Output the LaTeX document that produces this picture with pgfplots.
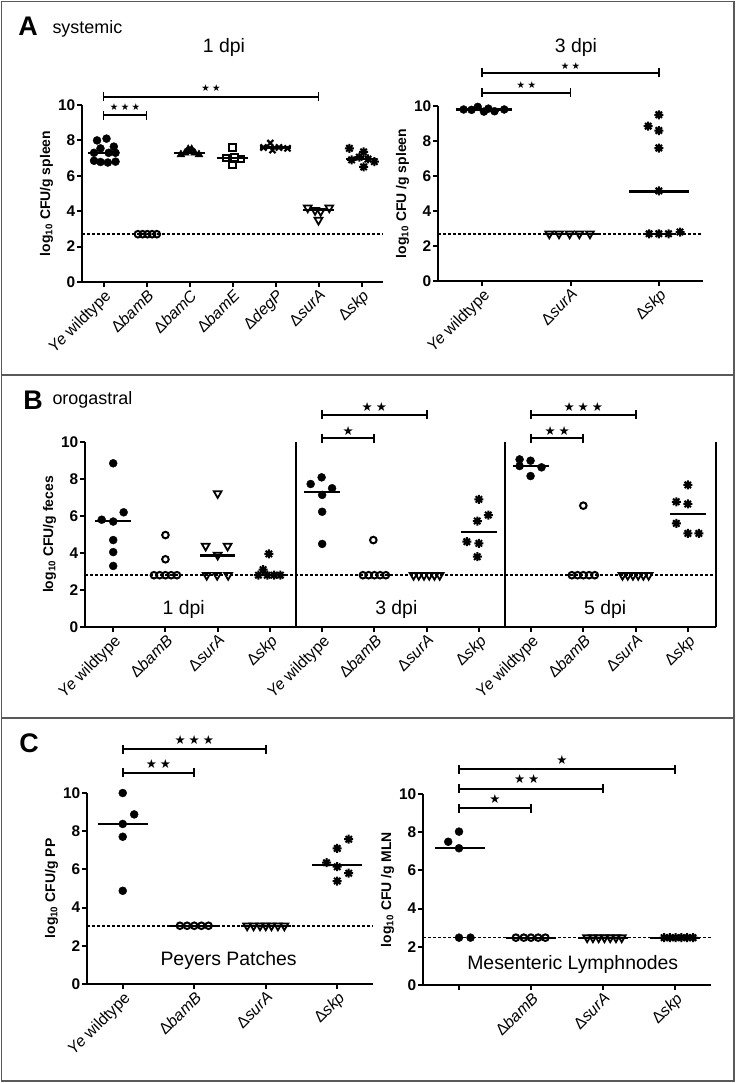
\documentclass[border=0pt]{standalone}
\usepackage{fontspec}
\setmainfont{Liberation Sans}
\newfontfamily\symfont{DejaVu Sans}
\usepackage{pgfplots}
\pgfplotsset{compat=1.18}

\pgfdeclareplotmark{ast8}{%
 \pgfpathmoveto{\pgfqpoint{0pt}{\pgfplotmarksize}}\pgfpathlineto{\pgfqpoint{0pt}{-\pgfplotmarksize}}%
 \pgfpathmoveto{\pgfqpoint{\pgfplotmarksize}{0pt}}\pgfpathlineto{\pgfqpoint{-\pgfplotmarksize}{0pt}}%
 \pgfpathmoveto{\pgfqpointpolar{45}{\pgfplotmarksize}}\pgfpathlineto{\pgfqpointpolar{225}{\pgfplotmarksize}}%
 \pgfpathmoveto{\pgfqpointpolar{135}{\pgfplotmarksize}}\pgfpathlineto{\pgfqpointpolar{315}{\pgfplotmarksize}}%
 \pgfusepathqstroke}

\pgfplotsset{
 gp/.style={
  scale only axis, clip=false, anchor=south west,
  axis x line*=bottom, axis y line*=left,
  ymin=0, ymax=10, ytick={0,2,4,6,8,10},
  tick align=outside, major tick length=5bp,
  axis line style={line width=2bp},
  major tick style={line width=2bp, black},
  /pgf/number format/assume math mode=true,
  yticklabel style={font=\fontsize{15.5}{16}\selectfont\bfseries, inner sep=1.5bp},
  xticklabel style={font=\fontsize{16}{17}\selectfont, rotate=45, anchor=north east, inner sep=1bp},
  ylabel style={font=\fontsize{14}{16}\selectfont\bfseries},
 },
 dl/.style={black, dash pattern=on 3bp off 2bp, line width=1.5bp, no marks},
 med/.style={black, line width=2.2bp, no marks},
 fc/.style={black, only marks, mark=*, mark size=4bp, mark options={fill=black, line width=0.4bp}},
 oc/.style={black, only marks, mark=o, mark size=3.3bp, mark options={line width=2bp}},
 tri/.style={black, only marks, mark=triangle, mark size=4.5bp, mark options={rotate=180, line width=1.8bp}},
 ftri/.style={black, only marks, mark=triangle*, mark size=4.6bp, mark options={fill=black}},
 sq/.style={black, only marks, mark=square, mark size=3.3bp, mark options={line width=2bp}},
 xm/.style={black, only marks, mark=x, mark size=4.3bp, mark options={line width=2.2bp}},
 ast/.style={black, only marks, mark=ast8, mark size=4.5bp, mark options={line width=2bp}},
}
\newcommand{\br}[3]{%
 \draw[line width=1.9bp] (axis cs:#1,#3) -- (axis cs:#2,#3);
 \draw[line width=1.9bp] ([yshift=-4.5bp]axis cs:#1,#3) -- ([yshift=4.5bp]axis cs:#1,#3);
 \draw[line width=1.9bp] ([yshift=-4.5bp]axis cs:#2,#3) -- ([yshift=4.5bp]axis cs:#2,#3);}
\newcommand{\sig}[4]{\node[inner sep=0pt, font=\symfont\fontsize{#3}{#3}\selectfont] at (axis cs:#1,#2) {#4};}

\begin{document}
\begin{tikzpicture}
\useasboundingbox (0,0) rectangle (737bp,-1083bp);
\draw[line width=1.5bp, black!65] (1.5bp,-1.5bp) rectangle (734bp,-1081bp);
\draw[line width=1.5bp, black!65] (1.5bp,-375bp) -- (734bp,-375bp);
\draw[line width=1.5bp, black!65] (1.5bp,-718bp) -- (734bp,-718bp);

\node[anchor=base, font=\fontsize{27}{27}\selectfont\bfseries] at (28bp,-35bp) {A};
\node[anchor=base west, font=\fontsize{18}{18}\selectfont] at (49bp,-33bp) {systemic};
\node[anchor=base, font=\fontsize{19.5}{20}\selectfont] at (224bp,-52bp) {1 dpi};
\node[anchor=base, font=\fontsize{19.5}{20}\selectfont] at (576bp,-52bp) {3 dpi};
\node[anchor=base, font=\fontsize{27}{27}\selectfont\bfseries] at (33bp,-409bp) {B};
\node[anchor=base west, font=\fontsize{18}{18}\selectfont] at (49bp,-404bp) {orogastral};
\node[anchor=base, font=\fontsize{27}{27}\selectfont\bfseries] at (29bp,-752bp) {C};

% ---------- Panel A left ----------
\begin{axis}[gp, at={(82bp,-282bp)}, width=301bp, height=177bp,
  xmin=-0.5, xmax=6.5, xtick={0,...,6},
  xticklabels={{\textit{Ye} wildtype},{Δ\textit{bamB}},{Δ\textit{bamC}},{Δ\textit{bamE}},{Δ\textit{degP}},{Δ\textit{surA}},{Δ\textit{skp}}},
  ylabel={log\textsubscript{10} CFU/g spleen}]
\addplot[dl] coordinates {(-0.5,2.7) (6.5,2.7)};
\addplot[fc] coordinates {(-0.15,8.0) (0.07,8.1) (0.24,7.65) (-0.07,7.55) (0.12,7.3) (0.28,7.3) (-0.22,7.3) (-0.22,6.85) (-0.07,6.78) (0.1,6.75) (0.28,6.8)};
\addplot[med] coordinates {(-0.36,7.3) (0.36,7.3)};
\addplot[oc] coordinates {(0.8,2.7) (0.91,2.7) (1.02,2.7) (1.13,2.7) (1.24,2.7)};
\addplot[ftri] coordinates {(1.8,7.2) (1.9,7.3) (1.97,7.5) (2.05,7.5) (2.12,7.3) (2.22,7.2)};
\addplot[med] coordinates {(1.64,7.28) (2.36,7.28)};
\addplot[sq] coordinates {(3,7.6) (2.85,7.0) (3.05,7.05) (3.2,6.95) (3.0,6.6)};
\addplot[med] coordinates {(2.64,7.0) (3.36,7.0)};
\addplot[xm] coordinates {(3.72,7.6) (3.88,7.85) (3.93,7.45) (4.08,7.6) (4.28,7.55)};
\addplot[med] coordinates {(3.64,7.6) (4.36,7.6)};
\addplot[tri] coordinates {(4.75,4.2) (4.92,4.05) (5.05,4.0) (5.25,4.2) (5.0,3.5)};
\addplot[med] coordinates {(4.64,4.05) (5.36,4.05)};
\addplot[ast] coordinates {(5.72,7.55) (6.05,7.35) (5.77,6.9) (5.95,7.05) (6.15,6.95) (6.3,6.8) (6.05,6.5)};
\addplot[med] coordinates {(5.64,6.95) (6.36,6.95)};
\br{0}{1}{9.43}
\sig{0.5}{9.9}{9.5}{★\hspace{2.5bp}★\hspace{2.5bp}★}
\br{0}{5}{10.47}
\sig{2.5}{10.95}{9.5}{★\hspace{2.5bp}★}
\end{axis}

% ---------- Panel A right ----------
\begin{axis}[gp, at={(438bp,-281bp)}, width=265bp, height=175bp,
  xmin=-0.5, xmax=2.5, xtick={0,1,2},
  xticklabels={{\textit{Ye} wildtype},{Δ\textit{surA}},{Δ\textit{skp}}},
  ylabel={log\textsubscript{10} CFU /g spleen}]
\addplot[dl] coordinates {(-0.5,2.7) (2.5,2.7)};
\addplot[fc] coordinates {(-0.21,9.8) (-0.12,9.78) (-0.05,9.95) (0.02,9.68) (0.07,9.85) (0.14,9.7) (0.25,9.8)};
\addplot[med] coordinates {(-0.3,9.8) (0.34,9.8)};
\addplot[tri] coordinates {(0.76,2.7) (0.87,2.7) (0.99,2.7) (1.1,2.7) (1.22,2.7)};
\addplot[med] coordinates {(0.7,2.7) (1.32,2.7)};
\addplot[ast] coordinates {(2.0,9.5) (1.88,8.85) (2.0,8.6) (2.0,7.6) (2.0,5.15) (1.89,2.7) (2.0,2.7) (2.11,2.7) (2.24,2.8)};
\addplot[med] coordinates {(1.66,5.12) (2.34,5.12)};
\br{0}{1}{10.76}
\sig{0.5}{11.2}{9.5}{★\hspace{2.5bp}★}
\br{0}{2}{11.9}
\sig{1}{12.3}{9.5}{★\hspace{2.5bp}★}
\end{axis}

% ---------- Panel B ----------
\begin{axis}[gp, at={(85bp,-627bp)}, width=631bp, height=185bp,
  xmin=-0.54, xmax=11.54, xtick={0,...,11},
  xticklabels={{\textit{Ye} wildtype},{Δ\textit{bamB}},{Δ\textit{surA}},{Δ\textit{skp}},{\textit{Ye} wildtype},{Δ\textit{bamB}},{Δ\textit{surA}},{Δ\textit{skp}},{\textit{Ye} wildtype},{Δ\textit{bamB}},{Δ\textit{surA}},{Δ\textit{skp}}},
  ylabel={log\textsubscript{10} CFU/g feces}]
\draw[line width=2bp] (axis cs:11.54,0) -- (axis cs:11.54,10);
\draw[line width=1.4bp] (axis cs:3.5,0) -- (axis cs:3.5,10);
\draw[line width=1.4bp] (axis cs:7.5,0) -- (axis cs:7.5,10);
\addplot[dl] coordinates {(-0.54,2.8) (11.54,2.8)};
\addplot[fc] coordinates {(-0.22,5.8) (0,5.7) (0.2,6.2) (0,8.85) (0,4.7) (0,4.05) (0,3.3)};
\addplot[med] coordinates {(-0.34,5.72) (0.34,5.72)};
\addplot[oc] coordinates {(1,4.97) (1,3.66) (0.78,2.8) (0.89,2.8) (1.0,2.8) (1.11,2.8) (1.22,2.8)};
\addplot[tri] coordinates {(2,7.22) (1.77,4.38) (2.19,4.38) (2,3.89) (1.79,2.8) (1.99,2.8) (2.2,2.8)};
\addplot[med] coordinates {(1.66,3.86) (2.34,3.86)};
\addplot[ast] coordinates {(2.98,3.95) (2.87,3.1) (2.78,2.8) (2.95,2.8) (3.08,2.8) (3.2,2.8)};
\addplot[fc] coordinates {(3.78,7.73) (3.99,8.09) (4.19,7.5) (4.0,7.14) (4.0,6.23) (4.0,4.49)};
\addplot[med] coordinates {(3.66,7.28) (4.34,7.28)};
\addplot[oc] coordinates {(4.98,4.7) (4.78,2.8) (4.89,2.8) (5.0,2.8) (5.11,2.8) (5.22,2.8)};
\addplot[tri] coordinates {(5.75,2.8) (5.85,2.8) (5.95,2.8) (6.05,2.8) (6.15,2.8) (6.25,2.8)};
\addplot[ast] coordinates {(7.0,6.9) (7.18,6.05) (6.97,5.73) (6.77,4.61) (7.0,4.52) (6.97,3.8)};
\addplot[med] coordinates {(6.66,5.15) (7.34,5.15)};
\addplot[fc] coordinates {(7.78,9.06) (7.99,8.99) (7.78,8.7) (8.2,8.63) (7.99,8.16)};
\addplot[med] coordinates {(7.66,8.7) (8.34,8.7)};
\addplot[oc] coordinates {(9.0,6.56) (8.78,2.8) (8.89,2.8) (9.0,2.8) (9.11,2.8) (9.22,2.8)};
\addplot[tri] coordinates {(9.75,2.8) (9.85,2.8) (9.95,2.8) (10.05,2.8) (10.15,2.8) (10.25,2.8)};
\addplot[ast] coordinates {(11.0,7.68) (10.78,6.77) (11.0,6.65) (10.78,5.6) (11.0,5.06) (11.21,5.06)};
\addplot[med] coordinates {(10.66,6.1) (11.34,6.1)};
\node[anchor=base, font=\fontsize{19.5}{20}\selectfont] at (axis cs:1.35,0.65) {1 dpi};
\node[anchor=base, font=\fontsize{19.5}{20}\selectfont] at (axis cs:5.42,0.65) {3 dpi};
\node[anchor=base, font=\fontsize{19.5}{20}\selectfont] at (axis cs:9.42,0.65) {5 dpi};
\br{4}{5}{10.2}
\sig{4.5}{10.62}{12.5}{★}
\br{4}{6}{11.46}
\sig{5}{11.9}{12.5}{★\hspace{3bp}★}
\br{8}{9}{10.2}
\sig{8.5}{10.62}{12.5}{★\hspace{3bp}★}
\br{8}{10}{11.46}
\sig{9}{11.88}{12.5}{★\hspace{3bp}★\hspace{3bp}★}
\end{axis}

% ---------- Panel C left ----------
\begin{axis}[gp, at={(87bp,-984bp)}, width=286bp, height=191bp,
  xmin=-0.5, xmax=3.5, xtick={0,...,3},
  xticklabels={{\textit{Ye} wildtype},{Δ\textit{bamB}},{Δ\textit{surA}},{Δ\textit{skp}}},
  ylabel={log\textsubscript{10} CFU/g PP}]
\addplot[dl] coordinates {(-0.5,3.05) (3.5,3.05)};
\addplot[fc] coordinates {(0,10.0) (0.16,8.88) (0,8.38) (0,7.71) (0,4.88)};
\addplot[med] coordinates {(-0.35,8.38) (0.35,8.38)};
\addplot[oc] coordinates {(0.8,3.05) (0.9,3.05) (1.0,3.05) (1.1,3.05) (1.2,3.05)};
\addplot[med] coordinates {(0.65,3.05) (1.35,3.05)};
\addplot[tri] coordinates {(1.74,3.05) (1.83,3.05) (1.92,3.05) (2.0,3.05) (2.08,3.05) (2.17,3.05) (2.26,3.05)};
\addplot[med] coordinates {(1.65,3.05) (2.35,3.05)};
\addplot[ast] coordinates {(3.16,7.58) (3.0,7.1) (2.85,6.35) (3.0,6.14) (3.16,5.8) (3.0,5.39)};
\addplot[med] coordinates {(2.65,6.25) (3.35,6.25)};
\node[anchor=base, font=\fontsize{19.5}{20}\selectfont] at (axis cs:1.48,0.96) {Peyers Patches};
\br{0}{1}{11.06}
\sig{0.5}{11.5}{12.5}{★\hspace{3bp}★}
\br{0}{2}{12.3}
\sig{1}{12.8}{12.5}{★\hspace{3bp}★\hspace{3bp}★}
\end{axis}

% ---------- Panel C right ----------
\begin{axis}[gp, at={(423bp,-985bp)}, width=288bp, height=191bp,
  xmin=-0.5, xmax=3.5, xtick={0,...,3},
  xticklabels={{},{Δ\textit{bamB}},{Δ\textit{surA}},{Δ\textit{skp}}},
  ylabel={log\textsubscript{10} CFU /g MLN}]
\addplot[dl] coordinates {(-0.5,2.48) (3.5,2.48)};
\addplot[fc] coordinates {(0,8.03) (-0.15,7.5) (0,7.16) (0,2.48) (0.16,2.48)};
\addplot[med] coordinates {(-0.33,7.19) (0.36,7.19)};
\addplot[oc] coordinates {(0.79,2.48) (0.9,2.48) (1.0,2.48) (1.1,2.48) (1.2,2.48)};
\addplot[med] coordinates {(0.65,2.48) (1.35,2.48)};
\addplot[tri] coordinates {(1.78,2.48) (1.86,2.48) (1.94,2.48) (2.02,2.48) (2.1,2.48) (2.18,2.48) (2.26,2.48)};
\addplot[med] coordinates {(1.65,2.48) (2.35,2.48)};
\addplot[ast] coordinates {(2.85,2.48) (2.93,2.48) (3.01,2.48) (3.09,2.48) (3.17,2.48) (3.25,2.48)};
\addplot[med] coordinates {(2.65,2.48) (3.35,2.48)};
\node[anchor=base, font=\fontsize{19.5}{20}\selectfont] at (axis cs:1.58,0.79) {Mesenteric Lymphnodes};
\br{0}{1}{9.25}
\sig{0.5}{9.72}{12.5}{★}
\br{0}{2}{10.28}
\sig{0.94}{10.77}{12.5}{★\hspace{3bp}★}
\br{0}{3}{11.3}
\sig{1.43}{11.8}{12.5}{★}
\end{axis}
\end{tikzpicture}
\end{document}
